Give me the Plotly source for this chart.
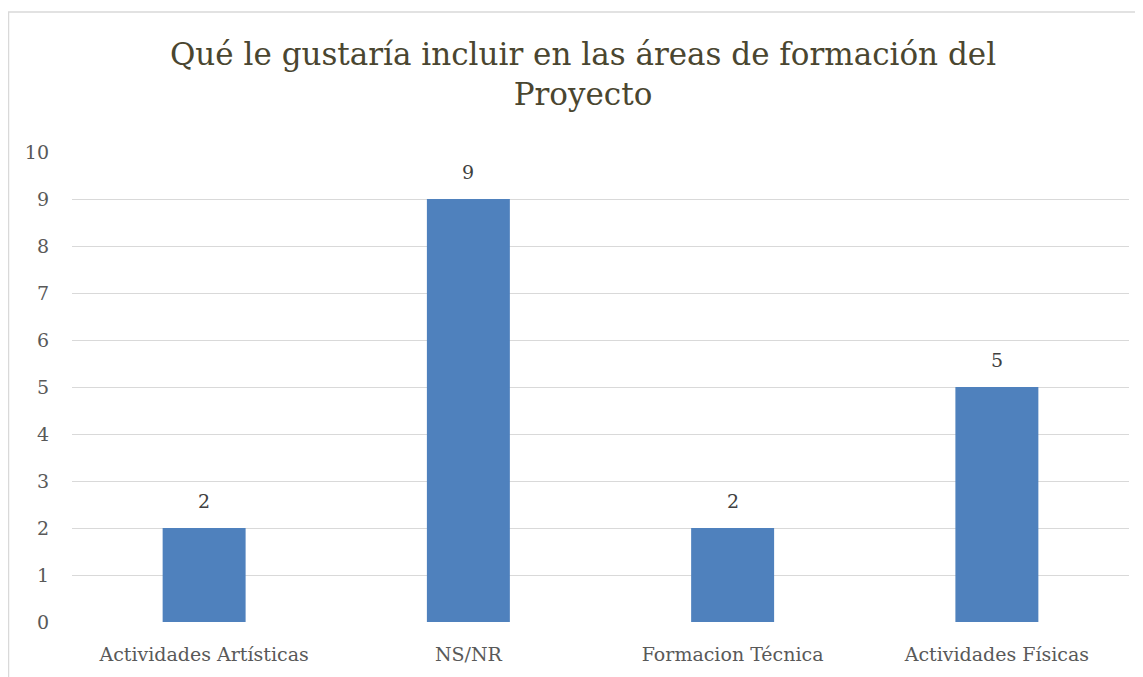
import plotly.graph_objects as go

categories = ["Actividades Artísticas", "NS/NR", "Formacion Técnica", "Actividades Físicas"]
values = [2, 9, 2, 5]
y_ticks = [0, 1, 2, 3, 4, 5, 6, 7, 8, 9, 10]
title_text = "Qué le gustaría incluir en las áreas de formación del<br>Proyecto"

OFF = 8  # page body margin
W, H = 1143 - OFF, 677 - OFF
L, R, T, B = 72 - OFF, 14, 152 - OFF, 55
FONT = "DejaVu Serif"

fig = go.Figure(go.Bar(
    x=categories, y=values,
    marker=dict(color="#4F81BD", line=dict(width=0)),
    width=0.314,
    hoverinfo="x+y",
))

for c, v in zip(categories, values):
    fig.add_annotation(x=c, y=v, text=str(v), showarrow=False,
                       yanchor="bottom", yshift=14,
                       font=dict(family=FONT, size=19, color="#404040"))

pw = W - L - R
ph = H - T - B
fig.update_layout(
    width=W, height=H,
    margin=dict(l=L, r=R, t=T, b=B, pad=0),
    paper_bgcolor="white", plot_bgcolor="white",
    showlegend=False,
    title=dict(text=title_text, x=(583 - OFF) / W, xanchor="center", xref="container",
               y=1 - (36 - OFF + 29) / H, yanchor="top", yref="container",
               font=dict(family=FONT, size=31, color="#4A4630")),
    xaxis=dict(showgrid=False, showline=False, ticks="", zeroline=False,
               ticklabelstandoff=19,
               tickfont=dict(family=FONT, size=19, color="#595959")),
    yaxis=dict(range=[0, 10], tickvals=y_ticks, showgrid=True, gridcolor="#D9D9D9",
               gridwidth=1, zeroline=False, showline=False, ticks="",
               ticklabelstandoff=22,
               tickfont=dict(family=FONT, size=19, color="#595959")),
    shapes=[dict(type="rect", xref="paper", yref="paper",
                 x0=(0.5 - L) / pw, x1=(W + 5 - L) / pw,
                 y0=-(H + 5 - (H - B)) / ph, y1=((H - B) - (12 - OFF)) / ph,
                 line=dict(color="#D9D9D9", width=1.5), fillcolor="rgba(0,0,0,0)",
                 layer="below")],
)
fig.write_html("out.html")
